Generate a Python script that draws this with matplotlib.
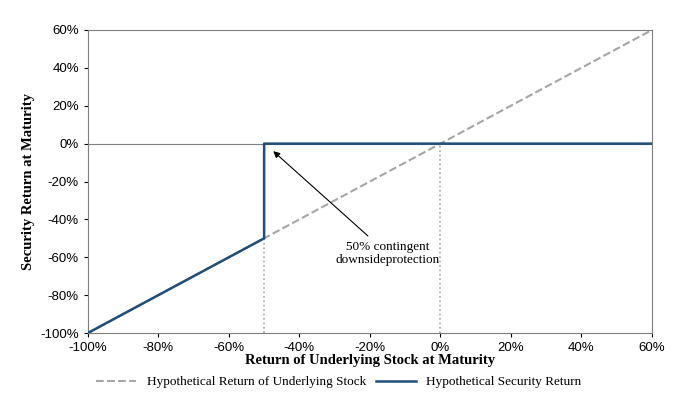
import matplotlib
matplotlib.use("Agg")
import matplotlib.pyplot as plt
from matplotlib.ticker import FuncFormatter

# data (percent)
stock_x = [-100, 60]
stock_y = [-100, 60]
sec_x = [-100, -50, -50, 60]
sec_y = [-100, -50, 0, 0]
barrier = -50
xticks = [-100, -80, -60, -40, -20, 0, 20, 40, 60]
yticks = [-100, -80, -60, -40, -20, 0, 20, 40, 60]

serif = ["Georgia", "Liberation Serif", "DejaVu Serif"]

fig = plt.figure(figsize=(6.92, 4.0), dpi=100)
ax = fig.add_axes([0.127, 0.1675, 0.815, 0.7575])

ax.axhline(0, color="#7f7f7f", lw=0.8, zorder=1)
ax.plot([barrier, barrier], [-100, -50], color="#a6a6a6", ls=":", lw=1.2)
ax.plot([0, 0], [-100, 0], color="#a6a6a6", ls=":", lw=1.2)
ax.plot(stock_x, stock_y, color="#a6a6a6", ls="--", lw=1.5,
        label="Hypothetical Return of Underlying Stock")
ax.plot(sec_x, sec_y, color="#1f4e79", lw=1.8,
        label="Hypothetical Security Return", zorder=3)

ax.annotate("50% contingent\ndownsideprotection", xy=(-48, -3), xytext=(-15, -58),
            ha="center", va="center", fontsize=9.5, family=serif,
            arrowprops=dict(arrowstyle="-|>", color="black", lw=0.8))

ax.set_xlim(-100, 60)
ax.set_ylim(-100, 60)
ax.set_xticks(xticks)
ax.set_yticks(yticks)
fmt = FuncFormatter(lambda v, p: f"{int(v)}%")
ax.xaxis.set_major_formatter(fmt)
ax.yaxis.set_major_formatter(fmt)
ax.tick_params(labelsize=9.5, length=3)
for lab in ax.get_xticklabels() + ax.get_yticklabels():
    lab.set_family(["Liberation Sans", "DejaVu Sans"])
for s in ax.spines.values():
    s.set_color("#7f7f7f")
    s.set_linewidth(0.8)

ax.set_xlabel("Return of Underlying Stock at Maturity", fontsize=10.5,
              fontweight="bold", family=serif, labelpad=0)
ax.set_ylabel("Security Return at Maturity", fontsize=10.5,
              fontweight="bold", family=serif)

fig.legend(loc="lower center", bbox_to_anchor=(0.49, 0.0), ncol=2, frameon=False,
           prop={"family": serif, "size": 9.5}, handlelength=3, columnspacing=0.8)

fig.savefig("out.png", dpi=100)
